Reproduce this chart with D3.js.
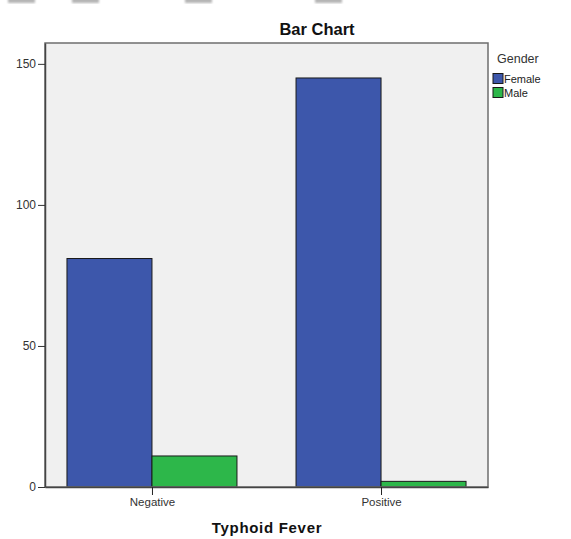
<!DOCTYPE html>
<html><head><meta charset="utf-8">
<script src="https://cdn.jsdelivr.net/npm/d3@7"></script>
<style>body{margin:0;background:#fff}svg{display:block}text{font-family:"Liberation Sans",Arial,sans-serif}</style>
</head><body>
<script>
const categories = ["Negative", "Positive"];
const genders = ["Female", "Male"];
const femaleValues = [81, 145];
const maleValues = [11, 2];
const yTicks = [0, 50, 100, 150];
const colors = ["#3d57ab", "#2db74a"];

const W = 571, H = 539;
const L = 45, R = 488, T = 43, B = 487;
const svg = d3.select("body").append("svg").attr("width", W).attr("height", H);

// faint artifacts at top edge
const blobs = [8, 72, 185, 315];
const defs = svg.append("defs");
defs.append("filter").attr("id","bl").append("feGaussianBlur").attr("stdDeviation",1.2);
svg.selectAll("rect.blob").data(blobs).join("rect").attr("class","blob")
  .attr("x", d => d).attr("y", -2).attr("width", 27).attr("height", 5)
  .attr("fill", "#b5b5b5").attr("filter","url(#bl)");

const y = d3.scaleLinear().domain([0, 157.4]).range([B, T]);
const x = d3.scalePoint().domain(categories).range([L, R]).padding(0.467);
const xs = d3.scaleBand().domain(genders).range([-85, 85]);

svg.append("rect").attr("x", L).attr("y", T).attr("width", R - L).attr("height", B - T)
  .attr("fill", "#f0f0f0");

const data = categories.map((c, i) => ({cat: c, vals: [femaleValues[i], maleValues[i]]}));
const g = svg.append("g");
data.forEach(d => {
  d.vals.forEach((v, j) => {
    g.append("rect")
      .attr("x", x(d.cat) + xs(genders[j]))
      .attr("y", y(v))
      .attr("width", xs.bandwidth())
      .attr("height", y(0) - y(v))
      .attr("fill", colors[j])
      .attr("stroke", "#1a1a1a").attr("stroke-width", 1);
  });
});

svg.append("rect").attr("x", L).attr("y", T).attr("width", R - L).attr("height", B - T)
  .attr("fill", "none").attr("stroke", "#6e6e6e").attr("stroke-width", 1.5);

const yAxis = svg.append("g").attr("transform", `translate(${L},0)`)
  .call(d3.axisLeft(y).tickValues(yTicks).tickSizeInner(7).tickSizeOuter(0).tickPadding(2));
yAxis.select(".domain").attr("stroke", "#444").attr("stroke-width", 1.5);
yAxis.selectAll(".tick line").attr("stroke", "#333");
yAxis.selectAll("text").attr("font-size", 12).attr("fill", "#333")
  .attr("font-family", '"Liberation Sans",Arial,sans-serif');

const xAxis = svg.append("g").attr("transform", `translate(0,${B})`)
  .call(d3.axisBottom(x).tickSizeInner(8).tickSizeOuter(0).tickPadding(3));
xAxis.select(".domain").attr("stroke", "#444").attr("stroke-width", 1.5);
xAxis.selectAll(".tick line").attr("stroke", "#222");
xAxis.selectAll("text").attr("font-size", 11.5).attr("fill", "#333")
  .attr("font-family", '"Liberation Sans",Arial,sans-serif');

svg.append("text").attr("x", 317).attr("y", 35).attr("text-anchor", "middle")
  .attr("font-size", 16.5).attr("font-weight", "bold").attr("fill", "#111").text("Bar Chart");
svg.append("text").attr("x", 267).attr("y", 533).attr("text-anchor", "middle")
  .attr("font-size", 15).attr("font-weight", "bold").attr("fill", "#111")
  .attr("letter-spacing", 0.7).text("Typhoid Fever");

const lg = svg.append("g");
lg.append("text").attr("x", 497).attr("y", 63).attr("font-size", 12.5).attr("fill", "#333").text("Gender");
genders.forEach((gname, i) => {
  lg.append("rect").attr("x", 493).attr("y", 73.5 + i * 14).attr("width", 10).attr("height", 10)
    .attr("fill", colors[i]).attr("stroke", "#1a1a1a").attr("stroke-width", 1);
  lg.append("text").attr("x", 504).attr("y", 83 + i * 14).attr("font-size", 11).attr("fill", "#222").text(gname);
});
</script>
</body></html>
